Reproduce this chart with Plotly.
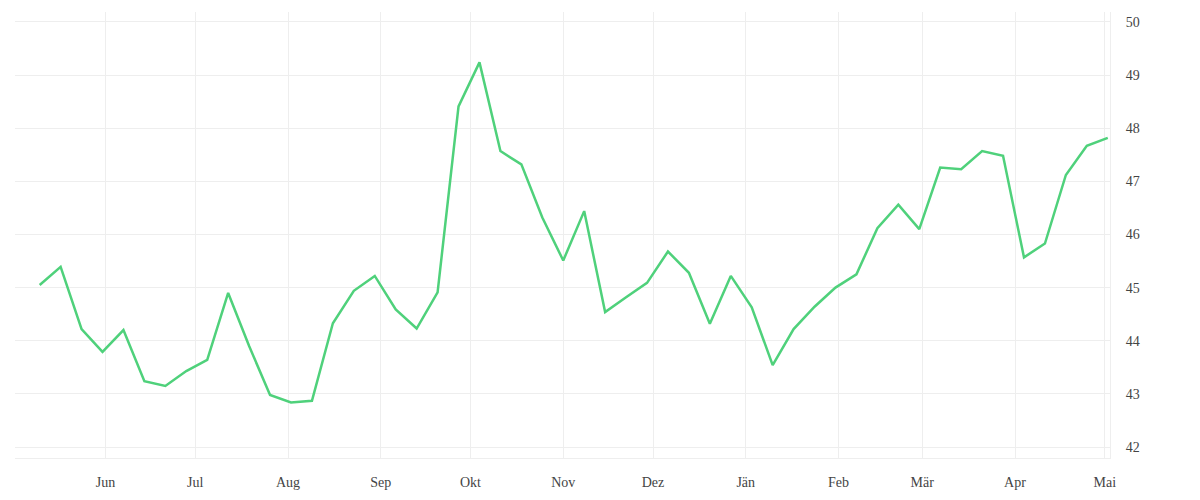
import pandas as pd
import plotly.graph_objects as go

start_date = "2020-05-10"
n_weeks = 52
values = [
    45.05, 45.39, 44.22, 43.79, 44.20, 43.24, 43.15, 43.43, 43.64, 44.90,
    43.90, 42.98, 42.84, 42.87, 44.33, 44.94, 45.22, 44.59, 44.23, 44.91,
    48.41, 49.24, 47.57, 47.32, 46.32, 45.51, 46.44, 44.54, 44.82, 45.09,
    45.68, 45.28, 44.32, 45.22, 44.63, 43.54, 44.22, 44.64, 45.00, 45.25,
    46.12, 46.56, 46.10, 47.26, 47.23, 47.57, 47.48, 45.57, 45.83, 47.12,
    47.67, 47.82,
]
dates = pd.date_range(start_date, periods=n_weeks, freq="7D")

month_ticks = pd.date_range("2020-06-01", "2021-05-01", freq="MS")
month_labels = ["Jun", "Jul", "Aug", "Sep", "Okt", "Nov", "Dez",
                "Jän", "Feb", "Mär", "Apr", "Mai"]
y_ticks = [42, 43, 44, 45, 46, 47, 48, 49, 50]

fig = go.Figure()
fig.add_trace(go.Scatter(
    x=dates, y=values, mode="lines",
    line=dict(color="#4fd17b", width=2.5),
    showlegend=False,
))

grid = "#eeeeee"
fig.update_layout(
    width=1192, height=492,
    margin=dict(l=7, r=90, t=4, b=42),
    paper_bgcolor="white", plot_bgcolor="white",
    font=dict(family="Liberation Serif", size=14, color="#444444"),
    xaxis=dict(
        range=["2020-05-01 18:00", "2021-05-02 18:00"],
        tickmode="array", tickvals=month_ticks, ticktext=month_labels,
        showgrid=True, gridcolor=grid, gridwidth=1,
        showline=True, linecolor=grid, linewidth=1,
        ticks="", zeroline=False,
        ticklabelstandoff=11,
    ),
    yaxis=dict(
        side="right",
        range=[41.793, 50.188],
        tickmode="array", tickvals=y_ticks,
        showgrid=True, gridcolor=grid, gridwidth=1,
        showline=True, linecolor=grid, linewidth=1,
        ticks="", zeroline=False,
        ticklabelstandoff=12,
    ),
)

fig.write_html("out.html")
